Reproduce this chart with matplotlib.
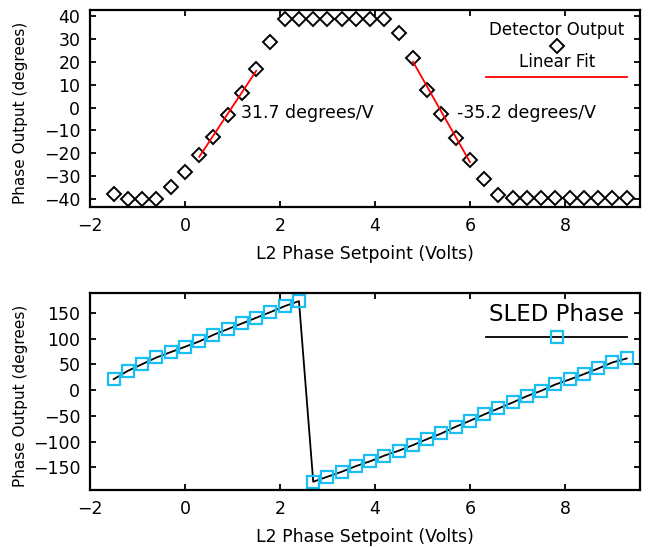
import numpy as np
import matplotlib.pyplot as plt

# ==============================
# DATA
# ==============================
setpoint = np.round(np.arange(37) * 0.3 - 1.5, 2)

detector = [-37.7, -39.9, -39.9, -39.9, -34.5, -27.9, -20.7, -12.7, -3.2, 6.3,
            16.7, 28.4, 38.8, 38.8, 38.8, 38.8, 38.8, 38.8, 38.8, 38.8,
            32.4, 21.5, 7.7, -2.8, -13.1, -22.8, -31.1, -38.1, -39.6, -39.6,
            -39.6, -39.6, -39.6, -39.6, -39.6, -39.6, -39.6]

sled = [21.3, 37.5, 50.4, 63.3, 73.7, 84.0, 94.4, 107.3, 118.3, 129.3,
        140.3, 151.3, 162.9, 172.6, -177.8, -168.0, -158.4, -147.4, -138.0, -127.0,
        -117.6, -106.7, -95.0, -84.0, -71.0, -59.5, -47.2, -35.6, -23.9, -11.6,
        -1.3, 11.0, 20.7, 31.0, 42.0, 53.7, 61.4]

# index ranges used for the two linear fits
fit_rise = slice(6, 11)
fit_fall = slice(21, 26)
slope_labels = ["31.7 degrees/V", "-35.2 degrees/V"]

xticks = [-2, 0, 2, 4, 6, 8]
yticks_top = [-40, -30, -20, -10, 0, 10, 20, 30, 40]
yticks_bot = [-150, -100, -50, 0, 50, 100, 150]

# ==============================
# STYLE
# ==============================
plt.rcParams['font.family'] = ['DejaVu Sans']
plt.rcParams['axes.linewidth'] = 1.6
cyan = '#18bff0'


def style_axes(ax):
    ax.tick_params(direction='in', top=True, right=True, length=4.5, width=1.3,
                   labelsize=12.5, pad=7)
    ax.set_xticks(xticks)
    ax.set_xlim(-2, 9.58)
    ax.set_xlabel("L2 Phase Setpoint (Volts)", fontsize=12.5, labelpad=7)
    ax.set_ylabel("Phase Output (degrees)", fontsize=11)
    ax.yaxis.set_label_coords(-0.112, 0.48)


fig = plt.figure(figsize=(6.54, 5.47), dpi=100)
ax1 = fig.add_axes([0.1376, 0.621, 0.841, 0.361])
ax2 = fig.add_axes([0.1376, 0.104, 0.841, 0.360])

# ==============================
# TOP PANEL
# ==============================
x = np.array(setpoint)
d = np.array(detector)
ax1.plot(x, d, linestyle='none', marker='D', markersize=7, markerfacecolor='none',
         markeredgecolor='black', markeredgewidth=1.4)

for sl in (fit_rise, fit_fall):
    k, b = np.polyfit(x[sl], d[sl], 1)
    xf = x[sl]
    ax1.plot(xf, k * xf + b, color='red', linewidth=1.3)

ax1.text(1.18, -2.5, slope_labels[0], fontsize=12.5, va='center', ha='left')
ax1.text(5.73, -2.5, slope_labels[1], fontsize=12.5, va='center', ha='left')

ax1.set_ylim(-43.5, 42.6)
ax1.set_yticks(yticks_top)
style_axes(ax1)

# legend drawn IDL style (label above sample)
ax1.text(0.8485, 0.899, "Detector Output", transform=ax1.transAxes,
         ha='center', va='center', fontsize=12)
ax1.plot([0.8485], [0.819], transform=ax1.transAxes, marker='D', markersize=7,
         markerfacecolor='none', markeredgecolor='black', markeredgewidth=1.4)
ax1.text(0.8485, 0.738, "Linear Fit", transform=ax1.transAxes,
         ha='center', va='center', fontsize=12)
ax1.plot([0.72, 0.976], [0.659, 0.659], transform=ax1.transAxes,
         color='red', linewidth=1.3)

# ==============================
# BOTTOM PANEL
# ==============================
ax2.plot(x, sled, color='black', linewidth=1.3, marker='s', markersize=9,
         markerfacecolor='none', markeredgecolor=cyan, markeredgewidth=1.6)
ax2.set_ylim(-194, 188)
ax2.set_yticks(yticks_bot)
style_axes(ax2)

ax2.text(0.8485, 0.89, "SLED Phase", transform=ax2.transAxes,
         ha='center', va='center', fontsize=16.5)
ax2.plot([0.72, 0.976], [0.779, 0.779], transform=ax2.transAxes,
         color='black', linewidth=1.3)
ax2.plot([0.8485], [0.779], transform=ax2.transAxes, marker='s', markersize=9,
         markerfacecolor='none', markeredgecolor=cyan, markeredgewidth=1.6)

fig.savefig("out.png", dpi=100)
